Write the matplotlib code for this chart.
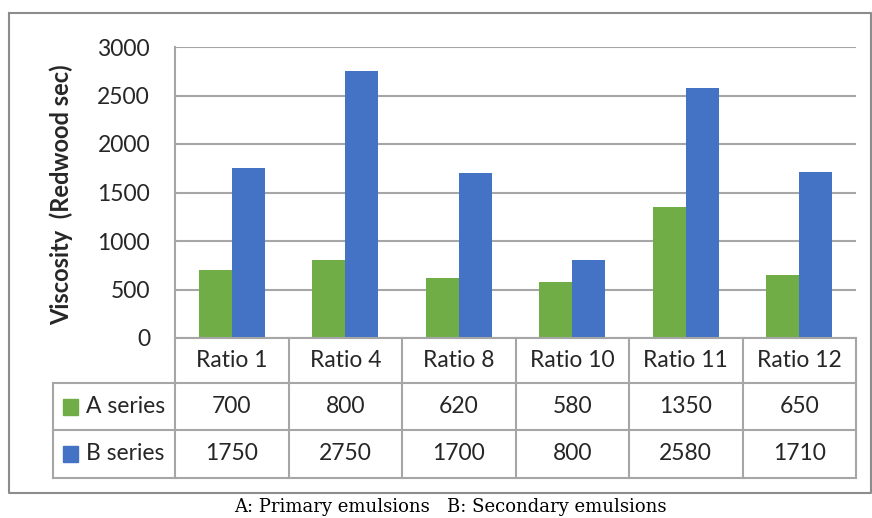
import matplotlib
matplotlib.use("Agg")
import matplotlib.pyplot as plt
import numpy as np

# Data
categories = ["Ratio 1", "Ratio 4", "Ratio 8", "Ratio 10", "Ratio 11", "Ratio 12"]
series_names = ["A series", "B series"]
a_values = [700, 800, 620, 580, 1350, 650]
b_values = [1750, 2750, 1700, 800, 2580, 1710]
y_ticks = [0, 500, 1000, 1500, 2000, 2500, 3000]
y_label = "Viscosity  (Redwood sec)"
caption = "A: Primary emulsions   B: Secondary emulsions"

GREEN = "#70AD47"
BLUE = "#4472C4"
GRID = "#a6a6a6"
BORDER = "#8c8c8c"
TEXT = "#262626"
FONT = "Lato"

W, H = 872, 518
fig = plt.figure(figsize=(W / 100, H / 100), dpi=100)

# Layout in pixels
plot_l, plot_r, plot_t, plot_b = 175, 856, 47, 338
tab_l = 53
row_edges = [338, 383, 430, 478]
col_w = (plot_r - plot_l) / len(categories)

# Overlay for frame, table and labels (pixel coordinates, y downward)
ov = fig.add_axes([0, 0, 1, 1], zorder=3)
ov.set_xlim(0, W)
ov.set_ylim(H, 0)
ov.axis("off")
ov.patch.set_alpha(0)

# Bar chart axes
ax = fig.add_axes([plot_l / W, 1 - plot_b / H, (plot_r - plot_l) / W, (plot_b - plot_t) / H], zorder=2)
x = np.arange(len(categories)) + 0.5
bw = 0.29
ax.bar(x - bw / 2, a_values, width=bw, color=GREEN, zorder=3)
ax.bar(x + bw / 2, b_values, width=bw, color=BLUE, zorder=3)
ax.set_xlim(0, len(categories))
ax.set_ylim(0, 3000)
ax.set_yticks(y_ticks)
ax.set_yticklabels([str(v) for v in y_ticks], fontsize=16.5, family=FONT, color=TEXT)
ax.tick_params(axis="y", length=0, pad=18)
ax.set_xticks([])
ax.yaxis.grid(True, color=GRID, linewidth=1.5)
ax.set_axisbelow(True)
for s in ["top", "right", "bottom"]:
    ax.spines[s].set_visible(False)
ax.spines["left"].set_color(GRID)
ax.spines["left"].set_linewidth(1.5)
ax.patch.set_alpha(0)

# Axis title
ov.text(61, (plot_t + plot_b) / 2 + 2, y_label, rotation=90, ha="center", va="center",
        fontsize=17, family=FONT, fontweight="bold", color=TEXT)

# Outer chart border
ov.plot([9, 871, 871, 9, 9], [13, 13, 493, 493, 13], color=BORDER, lw=1.5)

# Data table grid
lw = 1.5
ov.plot([plot_l, plot_r], [row_edges[0], row_edges[0]], color=GRID, lw=lw)
for y in row_edges[1:]:
    ov.plot([tab_l, plot_r], [y, y], color=GRID, lw=lw)
ov.plot([tab_l, tab_l], [row_edges[1], row_edges[3]], color=GRID, lw=lw)
for i in range(len(categories) + 1):
    xc = plot_l + i * col_w
    ov.plot([xc, xc], [row_edges[0], row_edges[3]], color=GRID, lw=lw)

# Table text
def row_mid(r):
    return (row_edges[r] + row_edges[r + 1]) / 2

for i, cat in enumerate(categories):
    cx = plot_l + (i + 0.5) * col_w
    ov.text(cx, row_mid(0), cat, ha="center", va="center", fontsize=16.5, family=FONT, color=TEXT)
    ov.text(cx, row_mid(1), str(a_values[i]), ha="center", va="center", fontsize=16.5, family=FONT, color=TEXT)
    ov.text(cx, row_mid(2), str(b_values[i]), ha="center", va="center", fontsize=16.5, family=FONT, color=TEXT)

for r, (name, col) in enumerate(zip(series_names, [GREEN, BLUE])):
    ym = row_mid(r + 1)
    ov.add_patch(plt.Rectangle((63, ym - 8), 15, 16, color=col))
    ov.text(86, ym, name, ha="left", va="center", fontsize=16.5, family=FONT, color=TEXT)

# Caption
ov.text(450, 507, caption, ha="center", va="center", fontsize=13, family="DejaVu Serif", color="black")

fig.savefig("out.png", dpi=100, facecolor="white")
